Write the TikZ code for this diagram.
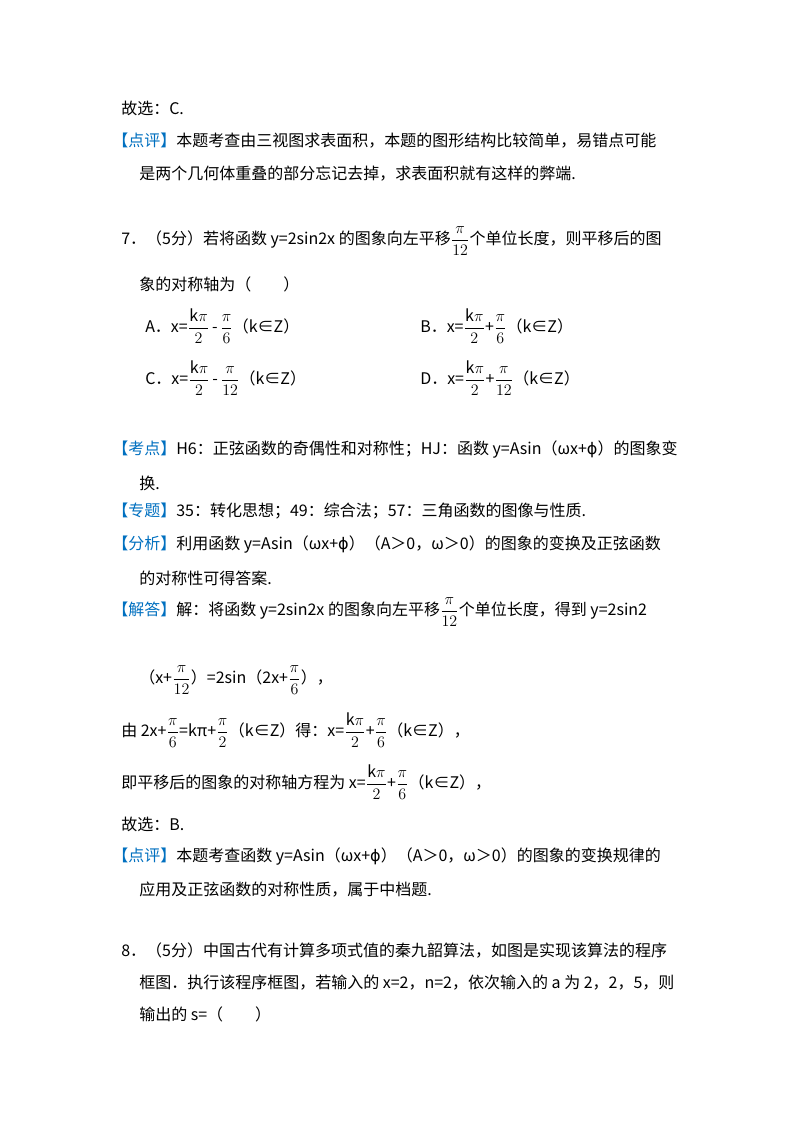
\documentclass[tikz,border=0pt]{standalone}
\usepackage{fontspec}
\setmainfont{Noto Sans CJK SC}
\newfontfamily\dvs{DejaVu Sans}
\usepackage{amsmath}
\definecolor{hl}{RGB}{0,112,192}
\newcommand{\tg}[1]{\textcolor{hl}{【#1】}}
\newcommand{\fr}[2]{$\dfrac{#1}{#2}$}
\newcommand{\ph}{{\dvs ϕ}}
\begin{document}
\begin{tikzpicture}[x=0.75pt,y=-0.75pt,
  ln/.style={anchor=west,inner sep=0pt,font=\fontsize{12}{14}\selectfont}]
\useasboundingbox[fill=white] (0,0) rectangle (800,1133);
\node[ln] (l1) at (121,108) {故选：C.};
\node[ln] (l2) at (112,141) {\tg{点评}本题考查由三视图求表面积，本题的图形结构比较简单，易错点可能};
\node[ln] (l3) at (139,174) {是两个几何体重叠的部分忘记去掉，求表面积就有这样的弊端.};
\node[ln] (l4) at (121,241) {7．（5分）若将函数 y=2sin2x 的图象向左平移\fr{\pi}{12}个单位长度，则平移后的图};
\node[ln] (l5) at (139,284) {象的对称轴为（\qquad）};
\node[ln] (oa) at (145,326) {A．x=\fr{\mathrm{k}\pi}{2}\,-\,\fr{\pi}{6}（k∈Z）};
\node[ln] (ob) at (420,326) {B．x=\fr{\mathrm{k}\pi}{2}+\fr{\pi}{6}（k∈Z）};
\node[ln] (oc) at (145,378) {C．x=\fr{\mathrm{k}\pi}{2}\,-\,\fr{\pi}{12}（k∈Z）};
\node[ln] (od) at (420,378) {D．x=\fr{\mathrm{k}\pi}{2}+\fr{\pi}{12}（k∈Z）};
\node[ln] (k1) at (112,450) {\tg{考点}H6：正弦函数的奇偶性和对称性；HJ：函数 y=Asin（ωx+\ph）的图象变};
\node[ln] (k2) at (139,483) {换.};
\node[ln] (z1) at (112,511) {\tg{专题}35：转化思想；49：综合法；57：三角函数的图像与性质.};
\node[ln] (f1) at (112,545) {\tg{分析}利用函数 y=Asin（ωx+\ph）（A＞0，ω＞0）的图象的变换及正弦函数};
\node[ln] (f2) at (139,578) {的对称性可得答案.};
\node[ln] (j1) at (112,612) {\tg{解答}解：将函数 y=2sin2x 的图象向左平移\fr{\pi}{12}个单位长度，得到 y=2sin2};
\node[ln] (j2) at (139,680) {（x+\fr{\pi}{12}）=2sin（2x+\fr{\pi}{6}），};
\node[ln] (j3) at (121,730) {由 2x+\fr{\pi}{6}=kπ+\fr{\pi}{2}（k∈Z）得：x=\fr{\mathrm{k}\pi}{2}+\fr{\pi}{6}（k∈Z），};
\node[ln] (j4) at (121,782) {即平移后的图象的对称轴方程为 x=\fr{\mathrm{k}\pi}{2}+\fr{\pi}{6}（k∈Z），};
\node[ln] (j5) at (121,824) {故选：B.};
\node[ln] (p1) at (112,857) {\tg{点评}本题考查函数 y=Asin（ωx+\ph）（A＞0，ω＞0）的图象的变换规律的};
\node[ln] (p2) at (139,890) {应用及正弦函数的对称性质，属于中档题.};
\node[ln] (q1) at (121,950) {8．（5分）中国古代有计算多项式值的秦九韶算法，如图是实现该算法的程序};
\node[ln] (q2) at (139,983) {框图．执行该程序框图，若输入的 x=2，n=2，依次输入的 a 为 2，2，5，则};
\node[ln] (q3) at (139,1014) {输出的 s=（\qquad）};
\end{tikzpicture}
\end{document}
